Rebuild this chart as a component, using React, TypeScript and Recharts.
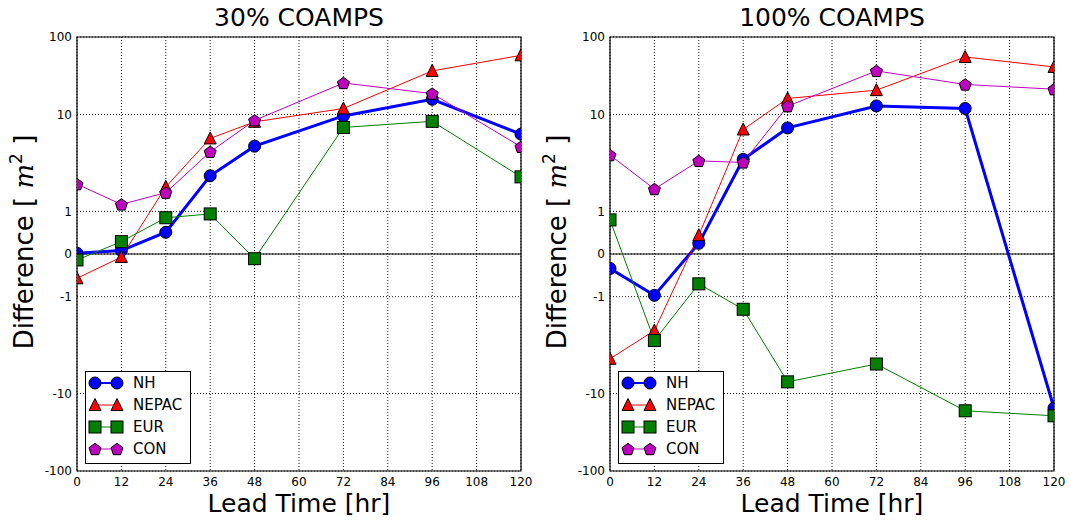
import React from "react";
import {
  LineChart, Line, XAxis, YAxis, CartesianGrid,
  ReferenceLine, ReferenceArea, Legend,
} from "recharts";

const HOURS = [0, 12, 24, 36, 48, 72, 96, 120];
const X_TICKS = [0, 12, 24, 36, 48, 60, 72, 84, 96, 108, 120];
const Y_TICKS = [-100, -10, -1, 0, 1, 10, 100];

// 30% COAMPS
const NH_30 = [0.02, 0.08, 0.51, 2.33, 4.71, 9.67, 15.7, 6.27];
const NEPAC_30 = [-0.57, -0.07, 1.79, 5.66, 8.4, 11.95, 36.5, 58];
const EUR_30 = [-0.14, 0.29, 0.85, 0.94, -0.11, 7.35, 8.5, 2.27];
const CON_30 = [1.91, 1.18, 1.56, 4.12, 8.7, 25.5, 18.6, 4.64];

// 100% COAMPS
const NH_100 = [-0.34, -0.97, 0.25, 3.44, 7.27, 12.9, 11.95, -15.4];
const NEPAC_100 = [-4.38, -2.24, 0.44, 7.0, 16.1, 20.6, 55.2, 41.1];
const EUR_100 = [0.8, -2.84, -0.7, -1.35, -7.58, -4.96, -16.7, -19.4];
const CON_100 = [3.81, 1.7, 3.32, 3.2, 12.8, 36.5, 24.4, 21.2];

const FONT = "'DejaVu Sans', sans-serif";

// piecewise symmetric log axis (linear inside +-1)
const LIN = 42.7;
const DEC1 = 97;
const DEC2 = 77.6;
const Y_MAX = LIN + DEC1 + DEC2;

function symlog(v: number): number {
  const a = Math.abs(v);
  let t: number;
  if (a <= 1) t = LIN * a;
  else if (a <= 10) t = LIN + DEC1 * Math.log10(a);
  else t = LIN + DEC1 + DEC2 * Math.log10(a / 10);
  return v < 0 ? -t : t;
}

function tickLabel(t: number): string {
  let best = Y_TICKS[0];
  for (const v of Y_TICKS) if (Math.abs(symlog(v) - t) < Math.abs(symlog(best) - t)) best = v;
  return String(best);
}

type Shape = "circle" | "triangle" | "square" | "pentagon";

function Marker({ shape, cx, cy, fill }: { shape: Shape; cx: number; cy: number; fill: string }) {
  const s = 6;
  if (shape === "circle") return <circle cx={cx} cy={cy} r={s} fill={fill} stroke="#000" strokeWidth={1} />;
  if (shape === "square")
    return <rect x={cx - s} y={cy - s} width={2 * s} height={2 * s} fill={fill} stroke="#000" strokeWidth={1} />;
  if (shape === "triangle")
    return (
      <path d={`M${cx},${cy - s - 0.5}L${cx + s},${cy + s - 0.5}L${cx - s},${cy + s - 0.5}Z`}
        fill={fill} stroke="#000" strokeWidth={1} />
    );
  const r = 6.3;
  const pts = [0, 1, 2, 3, 4].map((i) => {
    const a = -Math.PI / 2 + (i * 2 * Math.PI) / 5;
    return `${cx + r * Math.cos(a)},${cy + 0.6 + r * Math.sin(a)}`;
  });
  return <polygon points={pts.join(" ")} fill={fill} stroke="#000" strokeWidth={1} />;
}

const SERIES: { key: string; color: string; shape: Shape; width: number }[] = [
  { key: "NH", color: "#0000ff", shape: "circle", width: 3 },
  { key: "NEPAC", color: "#ff0000", shape: "triangle", width: 1 },
  { key: "EUR", color: "#008000", shape: "square", width: 1 },
  { key: "CON", color: "#bf00bf", shape: "pentagon", width: 1 },
];

function buildData(nh: number[], nepac: number[], eur: number[], con: number[]) {
  return HOURS.map((h, i) => ({
    h,
    NH: symlog(nh[i]),
    NEPAC: symlog(nepac[i]),
    EUR: symlog(eur[i]),
    CON: symlog(con[i]),
  }));
}

function LegendBox() {
  return (
    <div style={{ border: "1px solid #000", background: "#fff", width: 104, paddingBottom: 3, fontFamily: FONT, fontSize: 15 }}>
      {SERIES.map((s) => (
        <div key={s.key} style={{ display: "flex", alignItems: "center", height: 22 }}>
          <svg width={47} height={22} style={{ flex: "none" }}>
            <line x1={9} x2={31} y1={11} y2={11} stroke={s.color} strokeWidth={s.width === 3 ? 2 : 1} />
            <Marker shape={s.shape} cx={9} cy={11} fill={s.color} />
            <Marker shape={s.shape} cx={31} cy={11} fill={s.color} />
          </svg>
          <span>{s.key}</span>
        </div>
      ))}
    </div>
  );
}

function Panel({ title, data, left }: { title: string; data: Record<string, number>[]; left: number }) {
  return (
    <div style={{ position: "absolute", left, top: 0, width: 535, height: 520 }}>
      <LineChart width={535} height={520} data={data} margin={{ top: 37, right: 14, bottom: 19, left: 0 }}>
        <CartesianGrid stroke="#000" strokeWidth={0.9} strokeDasharray="1 2" />
        <XAxis
          dataKey="h" type="number" domain={[0, 120]} ticks={X_TICKS} allowDataOverflow
          height={30} tickSize={0} tickMargin={6} axisLine={false}
          tick={{ fontSize: 12, fill: "#000", fontFamily: FONT }}
          label={() => (
            <text x={299} y={512} textAnchor="middle" fontSize={25} fontFamily={FONT} fill="#000">
              Lead Time [hr]
            </text>
          )}
        />
        <YAxis
          type="number" domain={[-Y_MAX, Y_MAX]} ticks={Y_TICKS.map(symlog)} allowDataOverflow
          width={77} tickSize={0} tickMargin={5} axisLine={false} tickFormatter={(t) => tickLabel(t as number)}
          tick={{ fontSize: 12, fill: "#000", fontFamily: FONT }}
          label={() => (
            <text x={33} y={242} transform="rotate(-90 33 242)" textAnchor="middle" fontSize={26} fontFamily={FONT} fill="#000">
              Difference [ <tspan fontFamily="'DejaVu Serif', serif" fontStyle="italic">m</tspan>
              <tspan fontSize={17} dy={-11}>2</tspan>
              <tspan dy={11}> ]</tspan>
            </text>
          )}
        />
        <ReferenceLine y={0} stroke="#000" strokeWidth={1} />
        {SERIES.map((s) => (
          <Line
            key={s.key}
            dataKey={s.key}
            type="linear"
            stroke={s.color}
            strokeWidth={s.width}
            isAnimationActive={false}
            dot={(p: any) => <Marker key={`${s.key}-${p.index}`} shape={s.shape} cx={p.cx} cy={p.cy} fill={s.color} />}
            activeDot={false}
          />
        ))}
        <ReferenceArea x1={0} x2={120} y1={-Y_MAX} y2={Y_MAX} fill="none" stroke="#000" strokeWidth={1.2} />
        <Legend
          layout="vertical" align="center" verticalAlign="middle"
          content={() => <LegendBox />}
          wrapperStyle={{ left: 85, top: 371, width: "auto" }}
        />
      </LineChart>
      <div style={{ position: "absolute", top: 3, left: 77, width: 444, textAlign: "center", fontFamily: FONT, fontSize: 25, lineHeight: "30px" }}>
        {title}
      </div>
    </div>
  );
}

export default function App() {
  const d30 = buildData(NH_30, NEPAC_30, EUR_30, CON_30);
  const d100 = buildData(NH_100, NEPAC_100, EUR_100, CON_100);
  return (
    <div style={{ position: "absolute", left: 0, top: 0, width: 1070, height: 520, background: "#fff" }}>
      <Panel title="30% COAMPS" data={d30} left={0} />
      <Panel title="100% COAMPS" data={d100} left={533} />
    </div>
  );
}
